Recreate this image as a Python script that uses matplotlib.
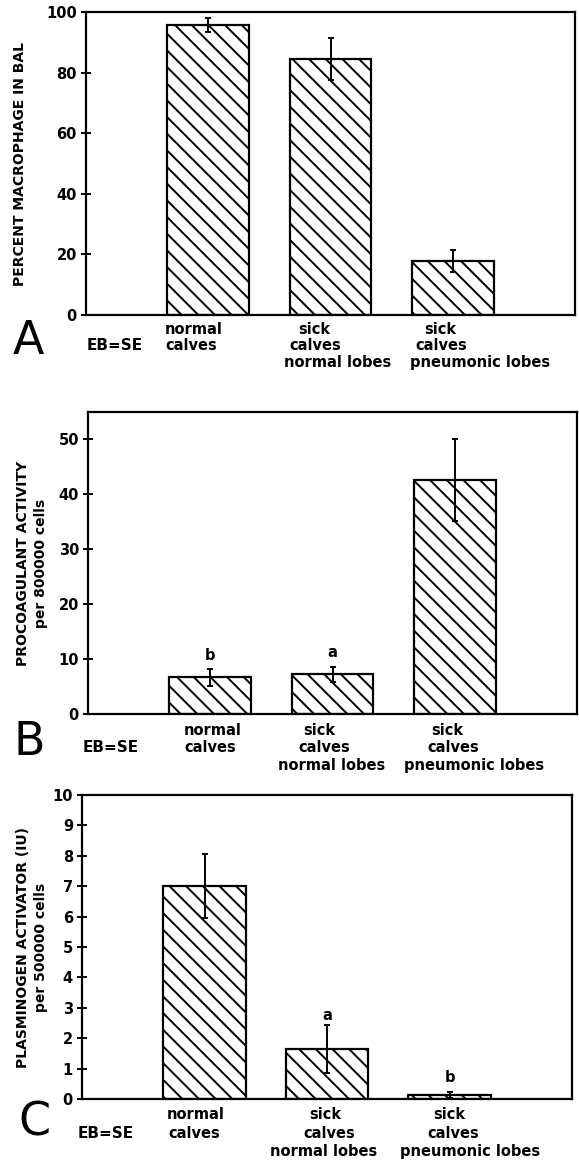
import matplotlib
matplotlib.use("Agg")
import matplotlib.pyplot as plt

# ---------------- data ----------------
categories = ["normal\ncalves", "sick\ncalves\nnormal lobes", "sick\ncalves\npneumonic lobes"]

macrophage_pct = [95.6, 84.5, 17.8]
macrophage_se = [2.3, 6.8, 3.6]
macrophage_ticks = [0, 20, 40, 60, 80, 100]

procoag = [6.65, 7.2, 42.6]
procoag_se = [1.5, 1.4, 7.5]
procoag_ticks = [0, 10, 20, 30, 40, 50]
procoag_letters = ["b", "a", ""]

plasminogen = [7.0, 1.65, 0.12]
plasminogen_se = [1.05, 0.78, 0.1]
plasminogen_ticks = [0, 1, 2, 3, 4, 5, 6, 7, 8, 9, 10]
plasminogen_letters = ["", "a", "b"]

panel_letters = ["A", "B", "C"]
ylabels = ["PERCENT MACROPHAGE IN BAL",
           "PROCOAGULANT ACTIVITY\nper 800000 cells",
           "PLASMINOGEN ACTIVATOR (IU)\nper 500000 cells"]
note = "EB=SE"

# ---------------- style ----------------
W, H = 579, 1160
plt.rcParams['font.family'] = ['DejaVu Sans']
plt.rcParams['hatch.linewidth'] = 1.4
plt.rcParams['hatch.color'] = 'black'

fig = plt.figure(figsize=(W / 100, H / 100), dpi=100)

# axes boxes in pixels: left, right, top, bottom
boxes = [(86, 575, 12, 315), (88, 577, 412, 714), (82, 572, 795, 1099)]
ylims = [(0, 100), (0, 55), (0, 10)]
values = [macrophage_pct, procoag, plasminogen]
errors = [macrophage_se, procoag_se, plasminogen_se]
ticks = [macrophage_ticks, procoag_ticks, plasminogen_ticks]
letters = [None, procoag_letters, plasminogen_letters]
letter_y = [None, [9.8, 10.3, 0], [0, 2.6, 0.57]]
label_x = [-0.12, -0.082, -0.070]

# category label layout (pixel offsets from bar centre per line), baselines
line_offsets = [
    [[-15, -17], [-16, -15, 7], [-12, -11, 27]],
    [[2, 0], [-13, -8, -1], [-7, -2, 19]],
    [[-9, -10], [-2, 2, -3], [0, 4, 21]],
]
first_baseline = [334, 735, 1119]
line_step = [16.5, 17.5, 18.5]
note_x = [87, 83, 78]
letter_pos = [(13, 354), (14, 755), (18, 1135)]

xpos = [1, 2, 3]
xlim = (0, 4)

for i in range(3):
    l, r, t, b = boxes[i]
    ax = fig.add_axes([l / W, 1 - b / H, (r - l) / W, (b - t) / H])
    ax.bar(xpos, values[i], width=0.67, facecolor='white', edgecolor='black',
           linewidth=1.6, hatch='\\\\', zorder=2)
    ax.errorbar(xpos, values[i], yerr=errors[i], fmt='none', ecolor='black',
                elinewidth=1.4, capsize=2.5, capthick=1.4, zorder=3)
    ax.set_xlim(*xlim)
    ax.set_ylim(*ylims[i])
    ax.set_yticks(ticks[i])
    ax.set_yticklabels([str(v) for v in ticks[i]], fontsize=10.5, fontweight='bold')
    ax.set_xticks([])
    ax.tick_params(axis='y', direction='inout', length=7, width=1.4, pad=3)
    for s in ax.spines.values():
        s.set_linewidth(1.6)
    ax.set_ylabel(ylabels[i], fontsize=10, fontweight='bold', linespacing=1.35)
    ax.yaxis.set_label_coords(label_x[i], 0.5)

    if letters[i] is not None:
        for xi, lt, ly in zip(xpos, letters[i], letter_y[i]):
            if lt:
                ax.text(xi, ly, lt, ha='center', va='baseline', fontsize=10.5,
                        fontweight='bold')

    # category labels
    for j, cat in enumerate(categories):
        cx = l + (xpos[j] - xlim[0]) / (xlim[1] - xlim[0]) * (r - l)
        for k, line in enumerate(cat.split('\n')):
            px = cx + line_offsets[i][j][k]
            py = first_baseline[i] + k * line_step[i]
            fig.text(px / W, 1 - py / H, line, ha='center', va='baseline',
                     fontsize=10.5, fontweight='bold')

    fig.text(note_x[i] / W, 1 - (first_baseline[i] + line_step[i]) / H, note,
             ha='left', va='baseline', fontsize=11, fontweight='bold')
    lx, ly = letter_pos[i]
    fig.text(lx / W, 1 - ly / H, panel_letters[i], ha='left', va='baseline',
             fontsize=33)

fig.savefig("out.png", dpi=100)
